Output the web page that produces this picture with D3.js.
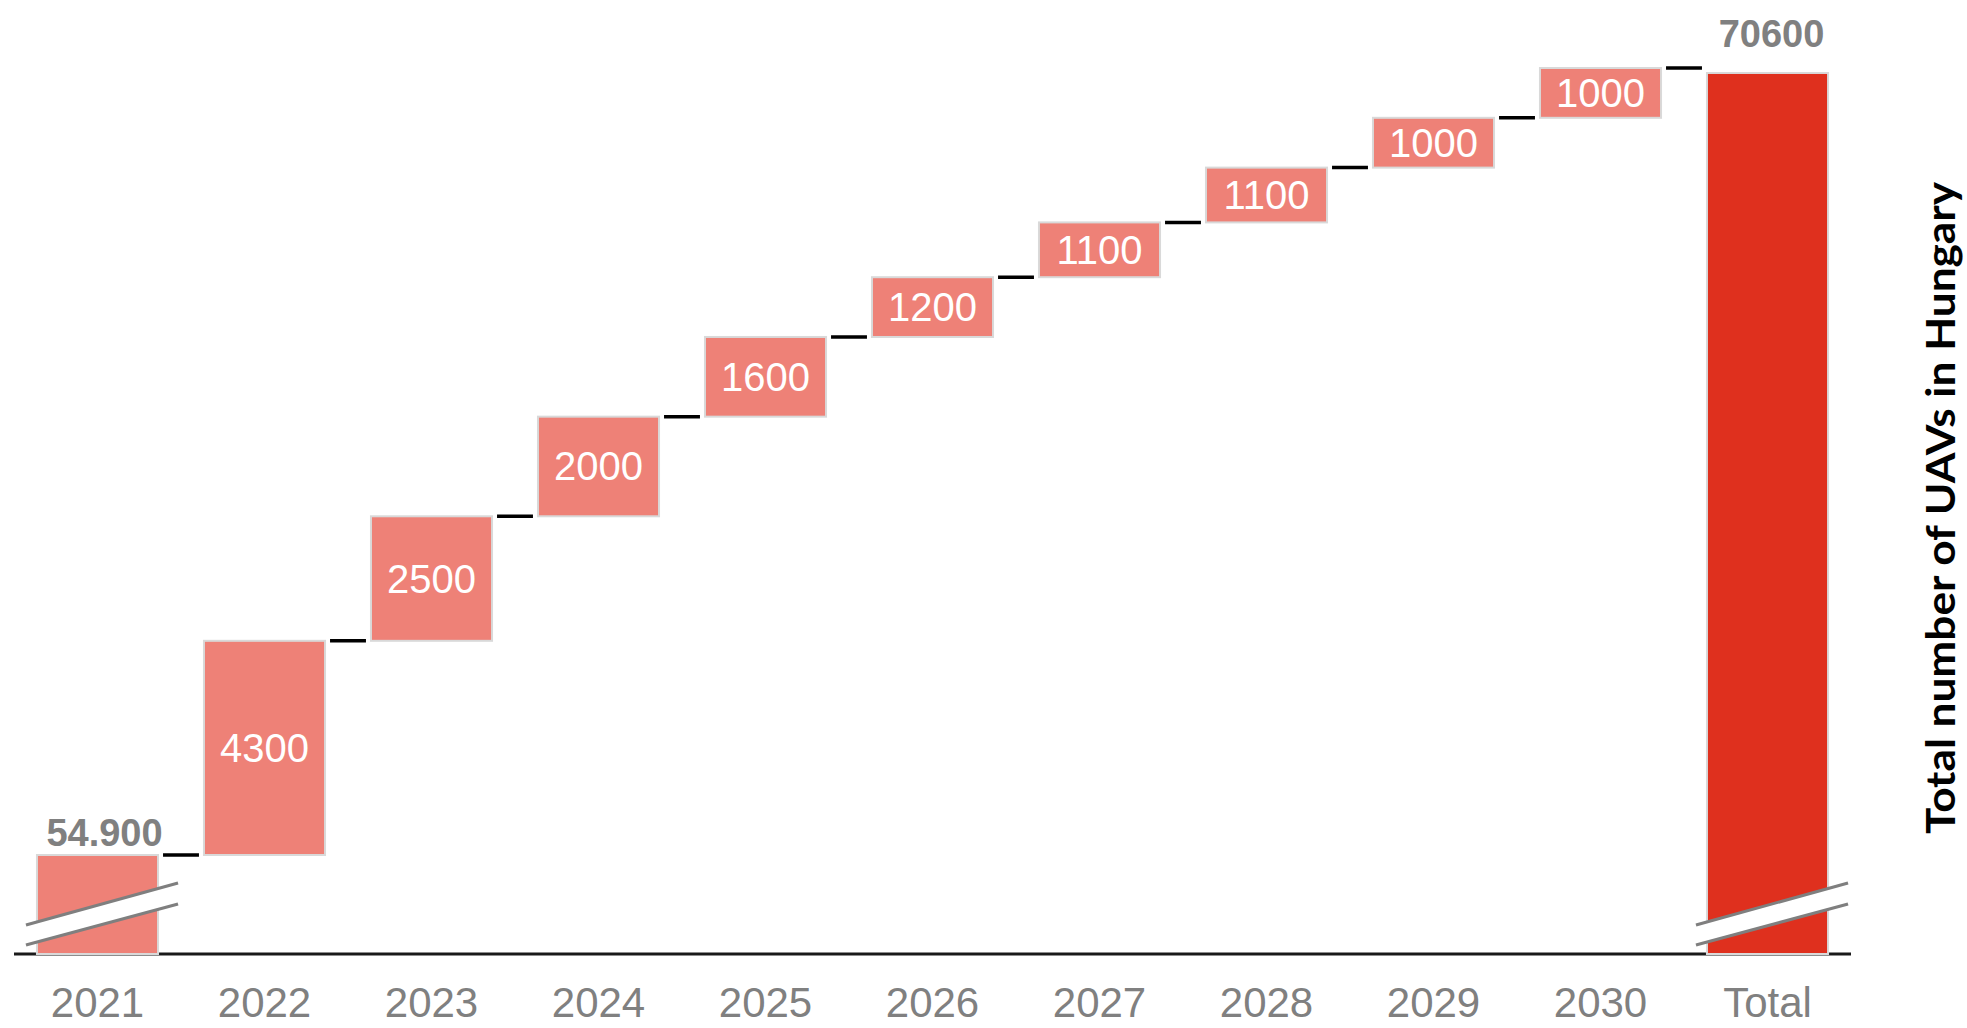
<!DOCTYPE html>
<html>
<head>
<meta charset="utf-8">
<script src="https://cdn.jsdelivr.net/npm/d3@7"></script>
<style>
  html, body { margin: 0; padding: 0; background: #fff; }
  svg { display: block; }
</style>
</head>
<body>
<div id="chart"></div>
<script>
// data
var categories = ["2021", "2022", "2023", "2024", "2025", "2026", "2027", "2028", "2029", "2030", "Total"];
var startValue = 54900;
var startLabel = "54.900";
var increments = [4300, 2500, 2000, 1600, 1200, 1100, 1100, 1000, 1000];
var totalValue = 70600;
var totalLabel = "70600";
var yTitle = "Total number of UAVs in Hungary";

var W = 1967, H = 1028;

var svg = d3.select("#chart").append("svg")
    .attr("width", W)
    .attr("height", H);

// build waterfall steps
var steps = [];
var cum = startValue;
steps.push({cat: categories[0], from: 0, to: startValue, type: "start", label: startLabel});
increments.forEach(function (v, i) {
    steps.push({cat: categories[i + 1], from: cum, to: cum + v, type: "inc", label: String(v)});
    cum += v;
});
steps.push({cat: categories[categories.length - 1], from: 0, to: totalValue, type: "total", label: totalLabel});

var x = d3.scaleBand()
    .domain(categories)
    .range([14, 1851])
    .paddingInner(0.275)
    .paddingOuter(0.1375);

// broken axis: everything below the first value is squeezed into the bottom strip
var y = d3.scaleLinear()
    .domain([0, startValue, cum])
    .range([954, 855, 68]);

// baseline
svg.append("line")
    .attr("x1", x.range()[0]).attr("x2", x.range()[1])
    .attr("y1", y(0)).attr("y2", y(0))
    .attr("stroke", "#1a1a1a")
    .attr("stroke-width", 3);

// connectors
var conn = svg.append("g");
steps.slice(0, -1).forEach(function (d, i) {
    var next = steps[i + 1];
    conn.append("line")
        .attr("x1", x(d.cat) + x.bandwidth() + 5)
        .attr("x2", x(next.cat) - 5)
        .attr("y1", y(d.to))
        .attr("y2", y(d.to))
        .attr("stroke", "#000")
        .attr("stroke-width", 3.5);
});

// bars
svg.append("g").selectAll("rect")
    .data(steps)
    .enter().append("rect")
    .attr("x", d => x(d.cat))
    .attr("width", x.bandwidth())
    .attr("y", d => y(d.to))
    .attr("height", d => y(d.from) - y(d.to))
    .attr("fill", d => d.type === "total" ? "#df301e" : "#ee8177")
    .attr("stroke", "#d9d9d9")
    .attr("stroke-width", 2);

// labels inside increment bars
svg.append("g").selectAll("text")
    .data(steps.filter(d => d.type === "inc"))
    .enter().append("text")
    .attr("x", d => x(d.cat) + x.bandwidth() / 2)
    .attr("y", d => (y(d.from) + y(d.to)) / 2 + 14)
    .attr("text-anchor", "middle")
    .attr("fill", "#fff")
    .style("font-family", "'Liberation Sans', Arial, sans-serif")
    .style("font-size", "40px")
    .text(d => d.label);

// labels above start and total bars
svg.append("g").selectAll("text")
    .data(steps.filter(d => d.type !== "inc"))
    .enter().append("text")
    .attr("x", d => x(d.cat) + x.bandwidth() / 2 + (d.type === "start" ? 7 : 4))
    .attr("y", d => y(d.to) - (d.type === "start" ? 9 : 26))
    .attr("text-anchor", "middle")
    .attr("fill", "#808080")
    .style("font-family", "'Liberation Sans', Arial, sans-serif")
    .style("font-size", "38px")
    .style("font-weight", "bold")
    .text(d => d.label);

// axis break marks on the first and the total bar
var brk = svg.append("g");
[categories[0], categories[categories.length - 1]].forEach(function (c) {
    var x0 = x(c) - 11, x1 = x(c) + x.bandwidth() + 20;
    var yb = y(0);
    brk.append("path")
        .attr("d", "M" + x0 + "," + (yb - 29) + "L" + x1 + "," + (yb - 71) +
            "L" + x1 + "," + (yb - 50) + "L" + x0 + "," + (yb - 9) + "Z")
        .attr("fill", "#fff");
    brk.append("line")
        .attr("x1", x0).attr("y1", yb - 29).attr("x2", x1).attr("y2", yb - 71)
        .attr("stroke", "#7f7f7f").attr("stroke-width", 3);
    brk.append("line")
        .attr("x1", x0).attr("y1", yb - 9).attr("x2", x1).attr("y2", yb - 50)
        .attr("stroke", "#7f7f7f").attr("stroke-width", 3);
});

// x axis labels
svg.append("g").selectAll("text")
    .data(categories)
    .enter().append("text")
    .attr("x", d => x(d) + x.bandwidth() / 2)
    .attr("y", 1017)
    .attr("text-anchor", "middle")
    .attr("fill", "#808080")
    .style("font-family", "'Liberation Sans', Arial, sans-serif")
    .style("font-size", "42px")
    .text(d => d);

// right-hand title
svg.append("text")
    .attr("transform", "translate(1955,508) rotate(-90)")
    .attr("text-anchor", "middle")
    .attr("fill", "#000")
    .attr("textLength", 652)
    .attr("lengthAdjust", "spacingAndGlyphs")
    .style("font-family", "Lato, 'Open Sans', sans-serif")
    .style("font-size", "40px")
    .style("font-weight", "bold")
    .text(yTitle);
</script>
</body>
</html>
